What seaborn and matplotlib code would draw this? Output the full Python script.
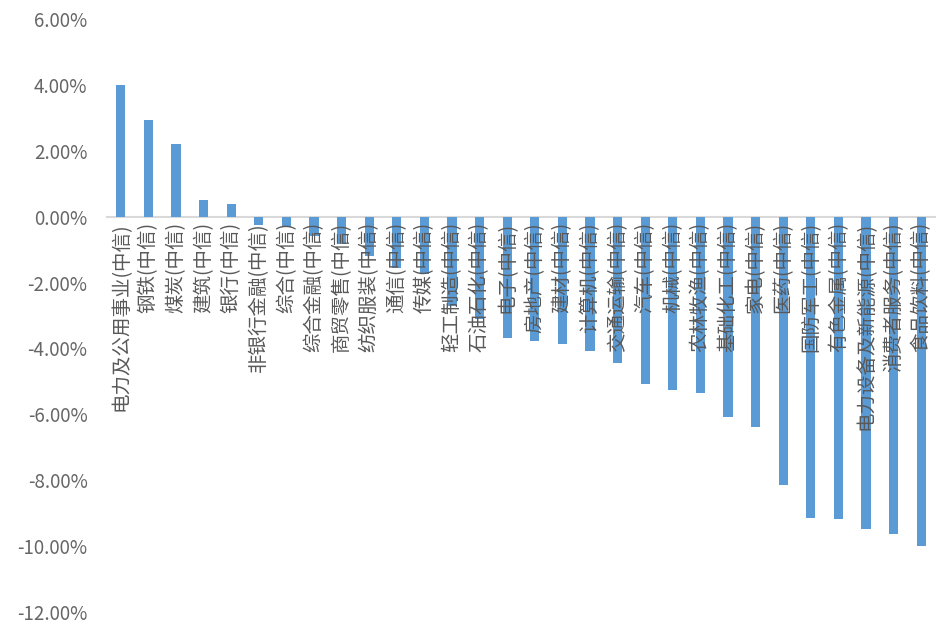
import matplotlib
matplotlib.use("Agg")
import matplotlib.pyplot as plt
import seaborn as sns
import pandas as pd
from matplotlib.ticker import FuncFormatter

categories = ["电力及公用事业(中信)", "钢铁(中信)", "煤炭(中信)", "建筑(中信)", "银行(中信)",
              "非银行金融(中信)", "综合(中信)", "综合金融(中信)", "商贸零售(中信)", "纺织服装(中信)",
              "通信(中信)", "传媒(中信)", "轻工制造(中信)", "石油石化(中信)", "电子(中信)",
              "房地产(中信)", "建材(中信)", "计算机(中信)", "交通运输(中信)", "汽车(中信)",
              "机械(中信)", "农林牧渔(中信)", "基础化工(中信)", "家电(中信)", "医药(中信)",
              "国防军工(中信)", "有色金属(中信)", "电力设备及新能源(中信)", "消费者服务(中信)", "食品饮料(中信)"]
values = [4.00, 2.92, 2.22, 0.51, 0.38,
          -0.24, -0.30, -0.58, -0.84, -1.20,
          -1.55, -1.75, -2.72, -3.11, -3.68,
          -3.76, -3.88, -4.08, -4.45, -5.09,
          -5.26, -5.34, -6.08, -6.38, -8.16,
          -9.14, -9.17, -9.49, -9.64, -10.00]
yticks = [6, 4, 2, 0, -2, -4, -6, -8, -10, -12]

sns.set_theme(style="white")
plt.rcParams['font.family'] = ['Noto Sans CJK SC', 'DejaVu Sans']

df = pd.DataFrame({"cat": categories, "val": values})

fig = plt.figure(figsize=(9.4, 6.26), dpi=100)
ax = fig.add_axes([107/940, 14/626, 828/940, 593/626])
sns.barplot(data=df, x="cat", y="val", color="#5B9BD5", saturation=1, width=0.34,
            linewidth=0, edgecolor="none", ax=ax)
for p in ax.patches:
    p.set_zorder(0.5)
ax.set_axisbelow(False)
ax.xaxis.set_zorder(3)

ax.set_ylim(-12, 6)
ax.set_yticks(yticks)
ax.yaxis.set_major_formatter(FuncFormatter(lambda v, p: f"{v:.2f}%"))
ax.set_xlabel("")
ax.set_ylabel("")
for s in ["top", "right", "left"]:
    ax.spines[s].set_visible(False)
ax.spines["bottom"].set_position(("data", 0))
ax.spines["bottom"].set_color("#D9D9D9")
ax.spines["bottom"].set_linewidth(1.5)
ax.spines["bottom"].set_zorder(0.4)
ax.tick_params(axis="x", length=0, pad=4, labelsize=14, labelcolor="#595959", labelrotation=90)
ax.tick_params(axis="y", length=0, pad=14, labelsize=13.5, labelcolor="#666666")
for lab in ax.get_xticklabels():
    lab.set_va("top")
    lab.set_ha("center")

fig.savefig("out.png", dpi=100)
